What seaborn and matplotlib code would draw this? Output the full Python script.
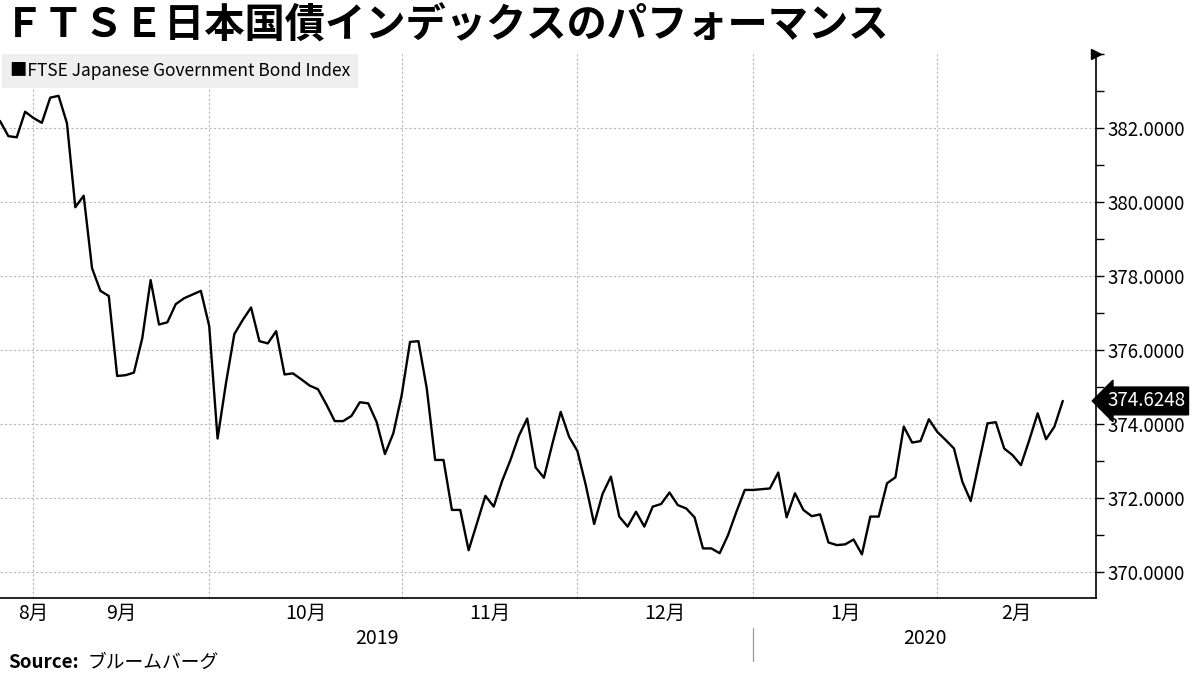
import numpy as np
import pandas as pd
import matplotlib
matplotlib.use("Agg")
import matplotlib.pyplot as plt
import seaborn as sns
from matplotlib.transforms import blended_transform_factory, offset_copy
from matplotlib.ticker import MultipleLocator, FormatStrFormatter

# ---------------- data ----------------
title = "ＦＴＳＥ日本国債インデックスのパフォーマンス"
series_name = "FTSE Japanese Government Bond Index"
source_label = "Source:"
source_text = "ブルームバーグ"
start_date = "2019-08-27"
end_date = "2020-02-24"
holidays = ["2019-12-25", "2020-01-01"]
month_names = ["1月", "2月", "3月", "4月", "5月", "6月",
               "7月", "8月", "9月", "10月", "11月", "12月"]
y_ticks = [370, 372, 374, 376, 378, 380, 382]

values = [
    382.19, 381.78, 381.75, 382.44, 382.27, 382.14, 382.82, 382.87, 382.13, 379.86,
    380.17, 378.21, 377.60, 377.46, 375.30, 375.32, 375.39, 376.32, 377.89, 376.69,
    376.75, 377.24, 377.40, 377.50, 377.60, 376.65, 373.61, 375.10, 376.43, 376.81,
    377.15, 376.24, 376.18, 376.51, 375.34, 375.37, 375.21, 375.04, 374.94, 374.53,
    374.08, 374.08, 374.22, 374.59, 374.56, 374.06, 373.19, 373.75, 374.78, 376.22,
    376.24, 374.96, 373.03, 373.03, 371.68, 371.68, 370.59, 371.32, 372.06, 371.77,
    372.46, 373.03, 373.68, 374.15, 372.83, 372.55, 373.46, 374.33, 373.66, 373.27,
    372.35, 371.30, 372.11, 372.58, 371.50, 371.23, 371.63, 371.23, 371.77, 371.84,
    372.15, 371.81, 371.72, 371.48, 370.64, 370.64, 370.51, 371.00, 371.63, 372.22,
    372.22, 372.24, 372.26, 372.69, 371.48, 372.13, 371.68, 371.51, 371.56, 370.80,
    370.73, 370.75, 370.88, 370.48, 371.50, 371.50, 372.40, 372.56, 373.93, 373.50,
    373.54, 374.13, 373.79, 373.57, 373.34, 372.44, 371.92, 372.98, 374.02, 374.05,
    373.34, 373.16, 372.89, 373.57, 374.29, 373.59, 373.93, 374.6248,
]

dates = pd.bdate_range(start_date, end_date)
dates = dates[~dates.isin(pd.to_datetime(holidays))]
n = min(len(dates), len(values))
df = pd.DataFrame({"date": dates[:n], "value": values[:n]})
df["pos"] = np.arange(n)

# ---------------- style ----------------
sns.set_theme(style="white")
plt.rcParams["font.family"] = ["Noto Sans CJK JP", "DejaVu Sans"]

W, H = 1200, 675
fig = plt.figure(figsize=(W / 100, H / 100), dpi=100)
ax = fig.add_axes([0, 1 - 598 / H, 1096 / W, (598 - 54) / H])

x_max = n - 1 + 3.97
ax.set_xlim(0, x_max)
ax.set_ylim(369.3, 384)

sns.lineplot(data=df, x="pos", y="value", ax=ax, color="black", linewidth=1.7)

# month boundaries
months = df["date"].dt.month.values
years = df["date"].dt.year.values
bounds = [i for i in range(1, n) if months[i] != months[i - 1]]
year_bounds = [i for i in range(1, n) if years[i] != years[i - 1]]

# grids
grid_kw = dict(color="#b8b8b8", linewidth=0.8, linestyle=(0, (2, 2)), zorder=0)
for yv in y_ticks:
    ax.axhline(yv, **grid_kw)
for b in bounds:
    ax.axvline(b, **grid_kw)

# spines
for s in ["left", "top"]:
    ax.spines[s].set_visible(False)
for s in ["right", "bottom"]:
    ax.spines[s].set_color("black")
    ax.spines[s].set_linewidth(1.2)

# y axis on the right
ax.yaxis.tick_right()
ax.set_yticks(y_ticks)
ax.yaxis.set_major_formatter(FormatStrFormatter("%.4f"))
ax.yaxis.set_minor_locator(MultipleLocator(1))
ax.tick_params(axis="y", which="both", direction="out", length=6, width=1.0,
               color="black", labelsize=13.5, pad=2, labelcolor="black")
ax.set_ylabel("")
ax.set_xlabel("")

# x axis ticks at month boundaries
ax.set_xticks(bounds)
ax.set_xticklabels([""] * len(bounds))
ax.tick_params(axis="x", direction="out", length=6, width=1.0, color="black")

# arrow at top of value axis
ax.plot([1], [1], marker=">", markersize=7, color="black",
        transform=ax.transAxes, clip_on=False)

# month labels
tr = blended_transform_factory(ax.transData, fig.transFigure)
seg_starts = [0] + bounds
seg_ends = bounds + [x_max]
for s, e in zip(seg_starts, seg_ends):
    m = months[s]
    pos = (s + e) / 2 if (e - s) >= 8 else e
    ax.text(pos, 1 - 613 / H, month_names[m - 1], transform=tr,
            ha="center", va="center", fontsize=14, color="black")

# year labels
y_starts = [0] + year_bounds
y_ends = year_bounds + [x_max]
for s, e in zip(y_starts, y_ends):
    ax.text((s + e) / 2, 1 - 638 / H, str(years[s]), transform=tr,
            ha="center", va="center", fontsize=14, color="black")
for b in year_bounds:
    ax.plot([b, b], [1 - 628 / H, 1 - 661 / H], transform=tr, color="#999999",
            linewidth=0.9, clip_on=False)

# last value tag
last = df["value"].iloc[-1]
tag_tr = offset_copy(blended_transform_factory(ax.transAxes, ax.transData),
                     fig=fig, x=11, y=0, units="dots")
ax.text(1.0, last, f"{last:.4f}", transform=tag_tr, ha="left", va="center",
        fontsize=13.5, color="white", clip_on=False,
        bbox=dict(boxstyle="larrow,pad=0.18", fc="black", ec="black"))

# legend box
fig.text(10 / W, 1 - 71 / H, "■" + series_name, ha="left", va="center",
         fontsize=12.5, color="black",
         bbox=dict(boxstyle="square,pad=0.45", fc="#efefef", ec="none"))

# title
fig.text(4 / W, 1 - 26 / H, title, ha="left", va="center",
         fontsize=29, fontweight="bold", color="black")

# source
t1 = fig.text(8 / W, 1 - 662 / H, source_label, ha="left", va="center",
              fontsize=13.5, fontweight="bold", color="black")
fig.canvas.draw()
bb = t1.get_window_extent()
fig.text((bb.x1 + 9) / W, 1 - 662 / H, source_text, ha="left", va="center",
         fontsize=13.5, color="black")

fig.savefig("out.png", dpi=100, facecolor="white")
